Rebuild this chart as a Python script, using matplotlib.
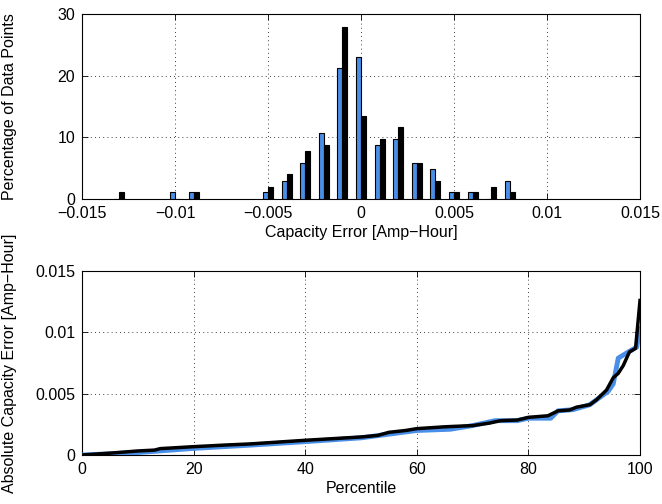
import numpy as np
from matplotlib import pyplot as plt

plt.rcParams['font.family'] = ['Liberation Sans', 'DejaVu Sans']
plt.rcParams['font.size'] = 11.5

# histogram bins [Amp-Hour] and percentages
bins = [-0.013, -0.010, -0.009, -0.005, -0.004, -0.003, -0.002, -0.001, 0.0,
        0.001, 0.002, 0.003, 0.004, 0.005, 0.006, 0.007, 0.008]
pct_blue = [0, 1.08, 1.08, 1.08, 2.9, 5.84, 10.65, 21.2, 23.1,
            8.7, 9.7, 5.84, 4.86, 1.08, 1.08, 0, 2.97]
pct_black = [1.08, 0, 1.08, 2.0, 4.0, 7.78, 8.76, 27.9, 13.5,
             9.7, 11.7, 5.84, 2.97, 1.08, 1.08, 2.0, 1.08]

# sorted absolute errors vs percentile
perc_black = [0, 5, 10, 13, 14, 20, 26, 30, 40, 50, 53, 55, 58, 60, 65, 70, 73, 75,
              78, 80, 83.5, 85.3, 87.4, 88.6, 91, 92.2, 94, 95.2, 96.1, 97, 98.1, 99.2, 100]
err_black = [0, 0.00015, 0.00033, 0.0004, 0.00052, 0.00068, 0.00082, 0.0009, 0.0012,
             0.00147, 0.0016, 0.00185, 0.002, 0.00215, 0.0023, 0.0024, 0.0026, 0.0028,
             0.00285, 0.00307, 0.0032, 0.0036, 0.00367, 0.0039, 0.0041, 0.0045, 0.0053,
             0.0063, 0.00666, 0.0073, 0.0084, 0.0087, 0.0126]
perc_blue = [0, 10, 20, 30, 40, 50, 55, 60, 66, 70, 74, 78, 80, 84, 85.3, 88, 91,
             94.3, 95.2, 96.1, 97.9, 99.4, 100]
err_blue = [0, 0.0002, 0.00054, 0.0008, 0.00109, 0.0014, 0.0017, 0.002, 0.0021,
            0.0024, 0.0028, 0.0028, 0.003, 0.003, 0.0036, 0.0037, 0.0041, 0.0052,
            0.0058, 0.0079, 0.0084, 0.0088, 0.0103]

blue = '#4a8fe7'

fig = plt.figure(figsize=(6.62, 5.04), dpi=100)
ax1 = fig.add_axes([0.1239, 0.6052, 0.8429, 0.367])
ax2 = fig.add_axes([0.1239, 0.0972, 0.8429, 0.365])

w = 0.00027
b = np.array(bins)
ax1.bar(b - w/2, pct_blue, width=w, color=blue, edgecolor='k', linewidth=0.8, zorder=3)
ax1.bar(b + w/2, pct_black, width=w, color='k', edgecolor='k', linewidth=0.8, zorder=3)
ax1.set_xlim(-0.015, 0.015)
ax1.set_ylim(0, 30)
ax1.set_xticks([-0.015, -0.01, -0.005, 0, 0.005, 0.01, 0.015])
ax1.set_xticklabels(['\u22120.015', '\u22120.01', '\u22120.005', '0', '0.005', '0.01', '0.015'])
ax1.set_yticks([0, 10, 20, 30])
ax1.set_xlabel('Capacity Error [Amp\u2212Hour]', labelpad=3)
ax1.set_ylabel('Percentage of Data Points')
ax1.yaxis.set_label_coords(-0.117, 0.5)

ax2.plot(perc_blue, err_blue, color=blue, linewidth=3.5, zorder=3)
ax2.plot(perc_black, err_black, color='k', linewidth=2.5, zorder=4)
ax2.set_xlim(0, 100)
ax2.set_ylim(0, 0.015)
ax2.set_xticks([0, 20, 40, 60, 80, 100])
ax2.set_yticks([0, 0.005, 0.01, 0.015])
ax2.set_yticklabels(['0', '0.005', '0.01', '0.015'])
ax2.set_xlabel('Percentile', labelpad=3)
ax2.set_ylabel('Absolute Capacity Error [Amp\u2212Hour]')
ax2.yaxis.set_label_coords(-0.117, 0.5)

for ax in (ax1, ax2):
    ax.grid(True, linestyle=(0, (1, 4)), color='k', linewidth=0.6, zorder=0)
    ax.tick_params(direction='in', top=True, right=True, length=4, width=0.6, pad=5)
    for s in ax.spines.values():
        s.set_linewidth(0.8)

fig.savefig('out.png', dpi=100)
plt.close()
